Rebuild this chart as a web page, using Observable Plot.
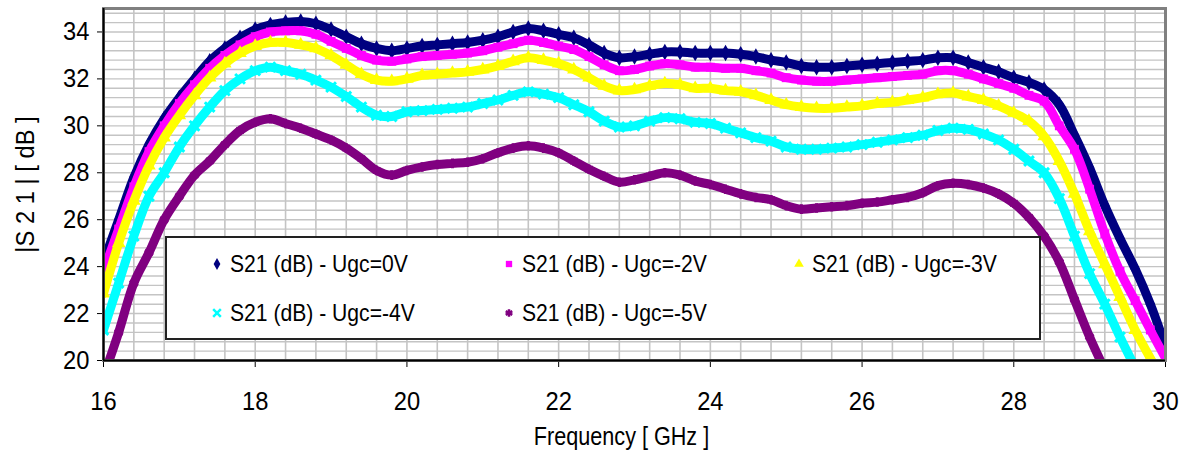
<!DOCTYPE html>
<html><head><meta charset="utf-8">
<script src="https://cdn.jsdelivr.net/npm/d3@7"></script>
<script src="https://cdn.jsdelivr.net/npm/@observablehq/plot@0.6"></script>
<style>
body{margin:0;background:#fff;}
#wrap{position:relative;width:1187px;height:456px;font-family:'Liberation Sans', Arial, sans-serif;}
#legend{position:absolute;left:165px;top:236px;width:872px;height:100px;background:#fff;border:2px solid #222;}
.item{position:absolute;line-height:26px;font-size:24px;white-space:nowrap;color:#000;transform:scaleX(0.88);transform-origin:0 50%;}
.sw{position:absolute;}
</style></head><body><div id="wrap"></div>
<script>
const freq = [16.0,16.2,16.4,16.6,16.8,17.0,17.2,17.4,17.6,17.8,18.0,18.2,18.4,18.6,18.8,19.0,19.2,19.4,19.6,19.8,
  20.0,20.2,20.4,20.6,20.8,21.0,21.2,21.4,21.6,21.8,22.0,22.2,22.4,22.6,22.8,23.0,23.2,23.4,23.6,23.8,
  24.0,24.2,24.4,24.6,24.8,25.0,25.2,25.4,25.6,25.8,26.0,26.2,26.4,26.6,26.8,27.0,27.2,27.4,27.6,27.8,
  28.0,28.2,28.4,28.6,28.8,29.0,29.2,29.4,29.6,29.8,30.0];
const ugc0 = [24.2,26.0,27.8,29.2,30.3,31.2,32.0,32.75,33.3,33.75,34.1,34.3,34.4,34.45,34.35,34.1,33.8,33.5,33.3,33.2,
  33.3,33.4,33.45,33.5,33.55,33.65,33.8,34.0,34.15,34.05,33.9,33.75,33.45,33.1,32.9,32.95,33.05,33.15,33.15,33.1,
  33.1,33.1,33.05,32.95,32.8,32.7,32.55,32.5,32.5,32.55,32.6,32.65,32.7,32.75,32.8,32.9,32.9,32.7,32.5,32.3,
  32.05,31.85,31.55,30.9,29.6,28.2,26.6,25.2,23.9,22.4,20.6];
const ugc2 = [23.8,25.6,27.4,28.9,30.0,30.95,31.75,32.45,33.0,33.45,33.8,34.0,34.05,34.05,33.9,33.6,33.3,33.0,32.8,32.75,
  32.85,32.95,33.0,33.05,33.1,33.2,33.35,33.5,33.65,33.55,33.4,33.25,32.95,32.6,32.35,32.4,32.55,32.65,32.6,32.5,
  32.5,32.45,32.45,32.35,32.25,32.05,31.95,31.9,31.9,31.95,32.0,32.05,32.1,32.15,32.2,32.35,32.35,32.2,32.0,31.8,
  31.6,31.3,31.05,30.0,29.0,27.3,25.4,23.8,22.55,21.3,20.1];
const ugc3 = [22.85,25.0,26.8,28.3,29.5,30.45,31.3,32.05,32.65,33.1,33.4,33.55,33.55,33.45,33.3,33.0,32.6,32.2,31.95,31.9,
  32.0,32.15,32.2,32.25,32.3,32.4,32.55,32.75,32.9,32.8,32.65,32.4,32.05,31.7,31.5,31.55,31.7,31.8,31.75,31.6,
  31.6,31.5,31.45,31.3,31.1,30.9,30.8,30.75,30.75,30.8,30.85,30.95,31.0,31.1,31.2,31.35,31.4,31.25,31.1,30.85,
  30.55,30.2,29.55,28.5,27.1,25.5,24.1,22.7,21.3,20.1,19.0];
const ugc4 = [21.3,23.3,25.3,27.0,28.0,29.1,30.0,30.8,31.5,32.0,32.35,32.5,32.35,32.2,31.95,31.65,31.25,30.8,30.45,30.4,
  30.6,30.65,30.7,30.75,30.8,30.95,31.1,31.3,31.45,31.35,31.2,30.9,30.6,30.2,29.95,30.0,30.2,30.35,30.3,30.15,
  30.1,29.9,29.7,29.5,29.35,29.1,29.0,29.0,29.05,29.1,29.2,29.3,29.4,29.5,29.6,29.8,29.9,29.85,29.65,29.4,
  29.0,28.5,28.0,26.9,25.3,23.7,22.4,21.0,19.7,null,null];
const ugc5 = [19.3,21.2,23.3,24.6,26.0,27.0,27.9,28.5,29.2,29.8,30.15,30.3,30.1,29.9,29.65,29.4,29.05,28.6,28.1,27.9,
  28.1,28.25,28.35,28.4,28.45,28.6,28.85,29.05,29.15,29.05,28.85,28.5,28.15,27.85,27.6,27.7,27.85,28.0,27.9,27.65,
  27.5,27.3,27.1,26.95,26.85,26.6,26.45,26.5,26.55,26.6,26.7,26.75,26.85,26.95,27.15,27.45,27.55,27.5,27.35,27.1,
  26.7,26.1,25.3,24.2,22.6,21.0,19.6,null,null,null,null];

const seriesNames = ["S21 (dB) - Ugc=0V","S21 (dB) - Ugc=-2V","S21 (dB) - Ugc=-3V","S21 (dB) - Ugc=-4V","S21 (dB) - Ugc=-5V"];
const seriesValues = [ugc0, ugc2, ugc3, ugc4, ugc5];
const seriesColors = ["#000080","#ff00ff","#ffff00","#00ffff","#800080"];
const seriesSymbols = ["diamond","square","triangle","times","asterisk"];
const xTicks = [16,18,20,22,24,26,28,30];
const yTicks = [20,22,24,26,28,30,32,34];
const gridX = [16.4,16.8,17.2,17.6,18,18.4,18.8,19.2,19.6,20,20.4,20.8,21.2,21.6,22,22.4,22.8,23.2,23.6,24,24.4,24.8,25.2,25.6,26,26.4,26.8,27.2,27.6,28,28.4,28.8,29.2,29.6];
const gridY = [20.4,20.8,21.2,21.6,22,22.4,22.8,23.2,23.6,24,24.4,24.8,25.2,25.6,26,26.4,26.8,27.2,27.6,28,28.4,28.8,29.2,29.6,30,30.4,30.8,31.2,31.6,32,32.4,32.8,33.2,33.6,34,34.4,34.8];

const marks = [
  Plot.ruleX(gridX, {stroke: "#c4c4c4", strokeWidth: 1.6}),
  Plot.ruleY(gridY, {stroke: "#c4c4c4", strokeWidth: 1.4})
];
seriesValues.forEach((vals, i) => {
  const rows = freq.map((f, j) => ({f, v: vals[j]})).filter(d => d.v != null);
  const stroked = seriesSymbols[i] === "times" || seriesSymbols[i] === "asterisk";
  marks.push(Plot.line(rows, {x: "f", y: "v", stroke: seriesColors[i], strokeWidth: 9, curve: "catmull-rom", clip: true}));
  marks.push(Plot.dot(rows, stroked
    ? {x: "f", y: "v", symbol: () => seriesSymbols[i], stroke: seriesColors[i], strokeWidth: 3, r: 4.5, clip: true}
    : {x: "f", y: "v", symbol: () => seriesSymbols[i], fill: seriesColors[i], r: 5, clip: true}));
});
marks.push(
  Plot.frame({stroke: "#808080", strokeWidth: 3}),
  Plot.ruleX([16], {stroke: "#000", strokeWidth: 2}),
  Plot.ruleY([20], {stroke: "#000", strokeWidth: 2}),
  Plot.text(["Frequency [ GHz ]"], {text: d => d, frameAnchor: "bottom", dy: 84, dx: -13, fontSize: 25, fill: "#000"}),
  Plot.text(["|S 2 1 | [ dB ]"], {text: d => d, frameAnchor: "left", textAnchor: "middle", lineAnchor: "middle", dx: -78, rotate: -90, fontSize: 25, fill: "#000"})
);

const chart = Plot.plot({
  width: 1187, height: 456,
  marginLeft: 103, marginRight: 22, marginTop: 8, marginBottom: 96,
  style: {fontFamily: "'Liberation Sans', Arial, sans-serif", fontSize: "25px", color: "#000", background: "#fff"},
  x: {domain: [16, 30], ticks: xTicks, tickSize: 7, tickPadding: 25, label: null, tickFormat: d => String(d)},
  y: {domain: [20, 35], ticks: yTicks, tickSize: 6, tickPadding: 8, label: null, tickFormat: d => String(d)},
  symbol: {type: "identity"},
  marks
});

// horizontally condense text (the reference uses a narrow face)
chart.querySelectorAll("text").forEach(t => {
  const txt = t.textContent;
  let sx = 0.95;
  if (txt.startsWith("Frequency")) sx = 0.865;
  else if (txt.startsWith("|S")) sx = 0.95;
  let tx = 0, ty = 0;
  const xa = t.getAttribute("x"), ya = t.getAttribute("y");
  if (xa != null && xa.trim() !== "" && isFinite(+xa)) { tx = +xa; t.removeAttribute("x"); }
  if (ya != null && ya.trim() !== "" && isFinite(+ya)) { ty = +ya; t.removeAttribute("y"); }
  const tr = t.getAttribute("transform") || "";
  t.setAttribute("transform", `${tr} translate(${tx},${ty}) scale(${sx},1)`.trim());
});

const wrap = document.getElementById("wrap");
wrap.appendChild(chart);

// legend overlay
const legend = document.createElement("div");
legend.id = "legend";
wrap.appendChild(legend);
const pos = [[50, 26], [342, 26], [632, 26], [50, 75], [342, 75]];
const symMap = {diamond: d3.symbolDiamond, square: d3.symbolSquare, triangle: d3.symbolTriangle, times: d3.symbolTimes, asterisk: d3.symbolAsterisk};
seriesNames.forEach((name, i) => {
  const [mx, my] = pos[i];
  const sw = d3.create("svg").attr("class", "sw").attr("width", 14).attr("height", 14)
    .style("left", (mx - 7) + "px").style("top", (my - 7) + "px");
  const p = sw.append("path").attr("transform", "translate(7,7)")
    .attr("d", d3.symbol(symMap[seriesSymbols[i]], 40)());
  if (seriesSymbols[i] === "times" || seriesSymbols[i] === "asterisk") p.attr("fill", "none").attr("stroke", seriesColors[i]).attr("stroke-width", 2.5);
  else p.attr("fill", seriesColors[i]);
  legend.appendChild(sw.node());
  const t = document.createElement("div");
  t.className = "item";
  t.textContent = name;
  t.style.left = (mx + 13) + "px";
  t.style.top = (my - 13) + "px";
  legend.appendChild(t);
});
</script></body></html>
